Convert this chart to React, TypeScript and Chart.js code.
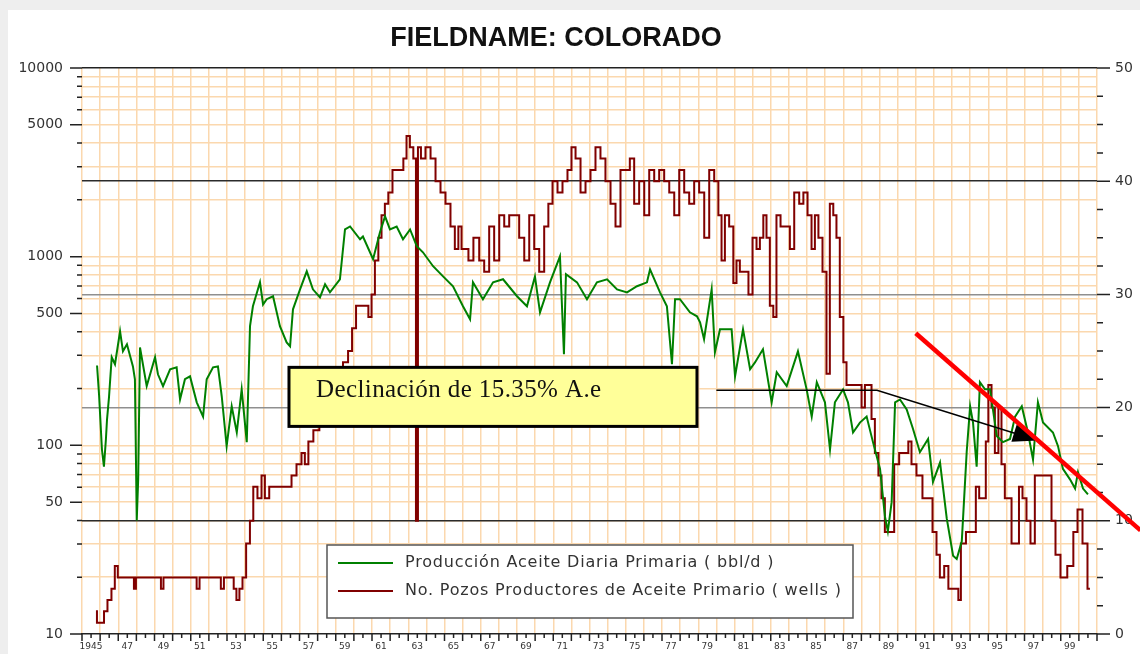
import React, { useEffect, useRef } from 'react';
import { Chart, registerables } from 'chart.js';

Chart.register(...registerables);

// ---------- text ----------
const chartTitle = 'FIELDNAME: COLORADO';
const prodLabel = 'Producción Aceite Diaria Primaria ( bbl/d )';
const wellLabel = 'No. Pozos Productores de Aceite Primario ( wells )';
const noteText = 'Declinación de 15.35% A.e';

// ---------- axis ticks ----------
const xLabelYears = [1945, 1947, 1949, 1951, 1953, 1955, 1957, 1959, 1961, 1963, 1965, 1967, 1969, 1971, 1973, 1975, 1977, 1979, 1981, 1983, 1985, 1987, 1989, 1991, 1993, 1995, 1997, 1999];
const xLabels = ['1945', '47', '49', '51', '53', '55', '57', '59', '61', '63', '65', '67', '69', '71', '73', '75', '77', '79', '81', '83', '85', '87', '89', '91', '93', '95', '97', '99'];
const leftTickValues = [10, 20, 30, 40, 50, 60, 70, 80, 90, 100, 200, 300, 400, 500, 600, 700, 800, 900, 1000, 2000, 3000, 4000, 5000, 6000, 7000, 8000, 9000, 10000];
const leftLabelValues = [10, 50, 100, 500, 1000, 5000, 10000];
const rightLabelValues = [0, 10, 20, 30, 40, 50];

// ---------- series: oil production (bbl/d) ----------
const prodYears = [
  1945.83, 1945.94, 1946.10, 1946.21, 1946.32, 1946.38, 1946.49, 1946.64, 1946.82, 1947.10,
  1947.26, 1947.48, 1947.81, 1947.92, 1948.02, 1948.10, 1948.20, 1948.57, 1949.03, 1949.19,
  1949.47, 1949.86, 1950.22, 1950.41, 1950.68, 1950.96, 1951.33, 1951.68, 1951.88, 1952.23,
  1952.50, 1952.71, 1952.98, 1953.26, 1953.54, 1953.81, 1954.09, 1954.27, 1954.43, 1954.82,
  1954.99, 1955.19, 1955.54, 1955.92, 1956.29, 1956.48, 1956.64, 1957.03, 1957.40, 1957.74,
  1958.13, 1958.41, 1958.68, 1959.23, 1959.51, 1959.79, 1960.34, 1960.50, 1961.06, 1961.44,
  1961.72, 1961.99, 1962.36, 1962.71, 1963.10, 1963.47, 1963.81, 1964.37, 1964.92, 1965.47,
  1966.02, 1966.41, 1966.57, 1967.12, 1967.68, 1968.23, 1969.00, 1969.55, 1969.99, 1970.27,
  1970.82, 1971.37, 1971.59, 1971.70, 1972.31, 1972.86, 1973.41, 1973.97, 1974.52, 1975.07,
  1975.62, 1976.17, 1976.34, 1976.89, 1977.27, 1977.55, 1977.72, 1977.99, 1978.54, 1978.93,
  1979.10, 1979.32, 1979.74, 1979.92, 1980.20, 1980.84, 1981.03, 1981.47, 1981.86, 1982.13,
  1982.57, 1983.05, 1983.33, 1983.88, 1984.50, 1984.98, 1985.26, 1985.54, 1985.99, 1986.27,
  1986.54, 1986.99, 1987.26, 1987.54, 1987.92, 1988.29, 1988.64, 1989.03, 1989.30, 1989.46,
  1989.67, 1989.86, 1990.13, 1990.50, 1990.85, 1991.23, 1991.68, 1991.95, 1992.34, 1992.71,
  1993.06, 1993.26, 1993.54, 1993.81, 1994.00, 1994.16, 1994.36, 1994.54, 1994.82, 1995.10,
  1995.47, 1995.81, 1996.20, 1996.48, 1996.85, 1997.19, 1997.47, 1997.74, 1998.02, 1998.57,
  1998.85, 1999.12, 1999.51, 1999.79, 1999.95, 2000.23, 2000.50,
];
const prodValues = [
  265, 186, 95, 77, 108, 137, 180, 293, 269, 402,
  315, 343, 262, 224, 40, 66, 330, 206, 293, 238,
  206, 253, 259, 175, 224, 232, 169, 142, 224, 259,
  262, 182, 99, 161, 117, 198, 104, 428, 546, 731,
  558, 595, 617, 428, 351, 335, 526, 671, 836, 671,
  609, 714, 647, 759, 1394, 1445, 1236, 1279, 970, 1347,
  1636, 1394, 1445, 1236, 1394, 1137, 1055, 890, 786, 697,
  546, 466, 731, 595, 731, 759, 617, 546, 786, 507,
  731, 1003, 304, 808, 731, 595, 731, 759, 671, 647,
  697, 731, 857, 647, 546, 269, 595, 595, 507, 483,
  449, 365, 671, 311, 412, 412, 232, 412, 253, 275,
  323, 169, 244, 206, 315, 198, 142, 216, 169, 95,
  169, 198, 169, 117, 132, 142, 104, 75, 42, 35,
  50, 169, 175, 155, 122, 92, 108, 64, 81, 41,
  26, 25, 31, 92, 161, 132, 77, 216, 198, 198,
  112, 104, 108, 142, 161, 117, 84, 169, 132, 117,
  99, 75, 66, 59, 72, 59, 55,
];

// ---------- series: producing wells ----------
const wellYears = [
  1945.77, 1945.88, 1946.16, 1946.27, 1946.54, 1946.71, 1946.91, 1947.04, 1947.81, 1947.92,
  1948.03, 1949.30, 1949.41, 1949.58, 1951.25, 1951.40, 1951.57, 1952.60, 1952.72, 1952.94,
  1953.30, 1953.44, 1953.60, 1953.77, 1953.94, 1954.17, 1954.36, 1954.54, 1954.82, 1954.99,
  1955.19, 1955.47, 1956.48, 1956.64, 1957.03, 1957.19, 1957.40, 1957.58, 1957.95, 1958.24,
  1958.57, 1958.90, 1959.23, 1959.57, 1959.79, 1960.01, 1960.23, 1960.43, 1960.71, 1960.89,
  1961.06, 1961.26, 1961.44, 1961.61, 1961.81, 1961.99, 1962.27, 1962.64, 1962.82, 1962.99,
  1963.19, 1963.37, 1963.48, 1963.59, 1963.81, 1964.09, 1964.37, 1964.64, 1964.92, 1965.19,
  1965.47, 1965.67, 1965.86, 1966.02, 1966.23, 1966.41, 1966.78, 1967.05, 1967.33, 1967.60,
  1967.88, 1968.16, 1968.43, 1968.71, 1968.98, 1969.26, 1969.54, 1969.81, 1970.09, 1970.36,
  1970.64, 1970.82, 1971.10, 1971.37, 1971.65, 1971.92, 1972.09, 1972.37, 1972.64, 1972.92,
  1973.19, 1973.47, 1973.74, 1974.02, 1974.30, 1974.57, 1974.85, 1975.12, 1975.33, 1975.60,
  1975.88, 1976.16, 1976.43, 1976.71, 1976.98, 1977.26, 1977.54, 1977.81, 1978.09, 1978.36,
  1978.64, 1978.91, 1979.19, 1979.47, 1979.74, 1980.02, 1980.20, 1980.37, 1980.57, 1980.84,
  1981.03, 1981.19, 1981.40, 1981.68, 1981.86, 1982.13, 1982.30, 1982.50, 1982.68, 1982.85,
  1983.05, 1983.23, 1983.40, 1983.68, 1983.95, 1984.16, 1984.43, 1984.71, 1984.89, 1985.17,
  1985.33, 1985.54, 1985.72, 1985.99, 1986.16, 1986.36, 1986.54, 1986.71, 1986.91, 1987.10,
  1987.26, 1987.92, 1988.10, 1988.29, 1988.48, 1988.64, 1988.85, 1989.03, 1989.19, 1989.40,
  1989.67, 1989.95, 1990.22, 1990.50, 1990.68, 1990.85, 1991.23, 1991.51, 1991.79, 1992.06,
  1992.23, 1992.43, 1992.71, 1992.89, 1993.26, 1993.44, 1993.54, 1994.00, 1994.27, 1994.36,
  1994.64, 1994.82, 1994.91, 1995.10, 1995.26, 1995.47, 1995.65, 1995.81, 1996.02, 1996.20,
  1996.37, 1996.64, 1996.75, 1997.03, 1997.19, 1997.47, 1997.67, 1998.41, 1998.57, 1998.85,
  1999.12, 1999.60, 1999.79, 2000.06, 2000.34, 2000.61,
];
const wellValues = [
  2, 1, 1, 2, 3, 4, 6, 5, 5, 4,
  5, 5, 4, 5, 5, 4, 5, 5, 4, 5,
  5, 4, 3, 4, 5, 8, 10, 13, 12, 14,
  12, 13, 13, 14, 15, 16, 15, 17, 18, 19,
  20, 21, 23, 24, 25, 27, 29, 29, 29, 28,
  30, 33, 35, 37, 38, 39, 41, 41, 42, 44,
  43, 42, 10, 43, 42, 43, 42, 40, 39, 38,
  36, 34, 36, 34, 34, 33, 35, 33, 32, 36,
  33, 37, 36, 37, 37, 35, 33, 37, 34, 32,
  36, 38, 40, 39, 40, 41, 43, 42, 39, 40,
  41, 43, 42, 40, 38, 36, 41, 41, 42, 38,
  40, 37, 41, 40, 41, 40, 39, 37, 41, 39,
  38, 40, 39, 35, 41, 40, 37, 33, 37, 36,
  31, 33, 32, 32, 30, 35, 34, 35, 37, 35,
  29, 28, 37, 36, 36, 34, 39, 38, 39, 37,
  34, 37, 35, 32, 23, 38, 37, 35, 28, 24,
  22, 22, 20, 22, 22, 19, 16, 14, 12, 9,
  9, 15, 16, 16, 17, 15, 14, 12, 12, 9,
  7, 5, 6, 4, 4, 3, 8, 9, 9, 13,
  12, 12, 17, 22, 20, 16, 20, 15, 12, 12,
  8, 8, 13, 12, 10, 8, 14, 14, 10, 7,
  5, 6, 9, 11, 8, 4,
];

// ---------- annotation geometry (data units: year, bbl/d) ----------
const noteBox = { fromYear: 1956.42, toYear: 1978.93, topValue: 259, bottomValue: 126 };
const arrowYears = [1980.0, 1988.86, 1997.74];
const arrowValues = [196, 196, 106];
const trendLine = { fromYear: 1991.0, fromValue: 393, toYear: 2003.4, toValue: 35.4 };

const GREEN = '#008000';
const DARKRED = '#800000';
const ORANGE_GRID = '#fbd8ae';
const AXIS_FONT = 'DejaVu Sans';
const CLEAR = 'rgba(0,0,0,0)';

const decorPlugin = {
  id: 'decor',
  beforeDraw(chart: any) {
    const { ctx, width, height } = chart;
    ctx.save();
    ctx.fillStyle = '#ffffff';
    ctx.fillRect(0, 0, width, height);
    ctx.fillStyle = '#eeeeee';
    ctx.fillRect(0, 0, width, 10);
    ctx.fillRect(0, 0, 8, height);
    ctx.restore();
  },
  afterDraw(chart: any) {
    const { ctx, chartArea: a, scales } = chart;
    const xs = scales.x;
    const ys = scales.y;
    const ys2 = scales.y2;
    ctx.save();

    // title
    ctx.fillStyle = '#111';
    ctx.font = 'bold 27px "Liberation Sans"';
    ctx.textAlign = 'center';
    ctx.textBaseline = 'middle';
    ctx.fillText(chartTitle, 556, 39);

    // tick marks
    ctx.strokeStyle = '#222';
    ctx.lineWidth = 1.5;
    ctx.beginPath();
    for (let i = 0; i <= (2001 - 1945) * 2; i++) {
      const v = 1945 + i / 2;
      const px = xs.getPixelForValue(v);
      const len = i % 2 === 0 ? 7 : 4;
      ctx.moveTo(px, a.bottom);
      ctx.lineTo(px, a.bottom + len);
    }
    for (const v of leftTickValues) {
      const py = ys.getPixelForValue(v);
      const len = leftLabelValues.includes(v) ? 12 : 5;
      ctx.moveTo(a.left - len, py);
      ctx.lineTo(a.left, py);
    }
    for (let i = 0; i <= 20; i++) {
      const v = i * 2.5;
      const py = ys2.getPixelForValue(v);
      const len = i % 4 === 0 ? 13 : 6;
      ctx.moveTo(a.right, py);
      ctx.lineTo(a.right + len, py);
    }
    ctx.stroke();

    // legend box
    const lx = a.left + 245;
    const ly = a.bottom - 89;
    const lw = 526;
    const lh = 73;
    ctx.fillStyle = '#ffffff';
    ctx.fillRect(lx, ly, lw, lh);
    ctx.strokeStyle = '#555';
    ctx.lineWidth = 1.5;
    ctx.strokeRect(lx, ly, lw, lh);
    const entries = [
      { color: GREEN, text: prodLabel, dy: 18 },
      { color: DARKRED, text: wellLabel, dy: 46 },
    ];
    ctx.font = `16px "${AXIS_FONT}"`;
    (ctx as any).letterSpacing = '0.8px';
    ctx.textBaseline = 'middle';
    ctx.textAlign = 'left';
    for (const e of entries) {
      ctx.strokeStyle = e.color;
      ctx.lineWidth = 2;
      ctx.beginPath();
      ctx.moveTo(lx + 11, ly + e.dy);
      ctx.lineTo(lx + 66, ly + e.dy);
      ctx.stroke();
      ctx.fillStyle = '#333';
      ctx.fillText(e.text, lx + 78, ly + e.dy);
    }

    // annotation box
    const bx0 = xs.getPixelForValue(noteBox.fromYear);
    const bx1 = xs.getPixelForValue(noteBox.toYear);
    const by0 = ys.getPixelForValue(noteBox.topValue);
    const by1 = ys.getPixelForValue(noteBox.bottomValue);
    ctx.fillStyle = '#ffff99';
    ctx.fillRect(bx0, by0, bx1 - bx0, by1 - by0);
    ctx.strokeStyle = '#000';
    ctx.lineWidth = 3;
    ctx.strokeRect(bx0, by0, bx1 - bx0, by1 - by0);
    ctx.fillStyle = '#111';
    ctx.font = '25px "Liberation Serif"';
    (ctx as any).letterSpacing = '0.4px';
    ctx.textBaseline = 'middle';
    ctx.fillText(noteText, bx0 + 27, by0 + 23);
    (ctx as any).letterSpacing = '0px';

    // decline arrow
    const pts = arrowYears.map((yr, i) => [xs.getPixelForValue(yr), ys.getPixelForValue(arrowValues[i])]);
    ctx.strokeStyle = '#000';
    ctx.lineWidth = 1.5;
    ctx.beginPath();
    ctx.moveTo(pts[0][0], pts[0][1]);
    for (let i = 1; i < pts.length; i++) ctx.lineTo(pts[i][0], pts[i][1]);
    ctx.stroke();
    const tip = pts[pts.length - 1];
    const prev = pts[pts.length - 2];
    const dx = tip[0] - prev[0];
    const dyy = tip[1] - prev[1];
    const L = Math.hypot(dx, dyy);
    const ux = dx / L;
    const uy = dyy / L;
    const bcx = tip[0] - 25 * ux;
    const bcy = tip[1] - 25 * uy;
    ctx.fillStyle = '#000';
    ctx.beginPath();
    ctx.moveTo(tip[0], tip[1]);
    ctx.lineTo(bcx - 9 * uy, bcy + 9 * ux);
    ctx.lineTo(bcx + 9 * uy, bcy - 9 * ux);
    ctx.closePath();
    ctx.fill();

    // red trend line
    ctx.strokeStyle = '#ff0000';
    ctx.lineWidth = 4.5;
    ctx.beginPath();
    ctx.moveTo(xs.getPixelForValue(trendLine.fromYear), ys.getPixelForValue(trendLine.fromValue));
    ctx.lineTo(xs.getPixelForValue(trendLine.toYear), ys.getPixelForValue(trendLine.toValue));
    ctx.stroke();

    ctx.restore();
  },
};

export default function App() {
  const canvasRef = useRef<HTMLCanvasElement | null>(null);

  useEffect(() => {
    const canvas = canvasRef.current;
    if (!canvas) return;
    const prodData = prodYears.map((x, i) => ({ x, y: prodValues[i] }));
    const wellData = wellYears.map((x, i) => ({ x, y: wellValues[i] }));

    const chart = new Chart(canvas, {
      type: 'line',
      data: {
        datasets: [
          {
            label: prodLabel,
            data: prodData,
            borderColor: GREEN,
            backgroundColor: GREEN,
            borderWidth: 2,
            pointRadius: 0,
            tension: 0,
            yAxisID: 'y',
            xAxisID: 'x',
          },
          {
            label: wellLabel,
            data: wellData,
            borderColor: DARKRED,
            backgroundColor: DARKRED,
            borderWidth: 2,
            pointRadius: 0,
            stepped: 'middle',
            yAxisID: 'y2',
            xAxisID: 'x',
          },
        ],
      },
      options: {
        animation: false,
        responsive: true,
        maintainAspectRatio: false,
        devicePixelRatio: 1,
        events: [],
        layout: { padding: { left: 0, right: 0, top: 68, bottom: 0 } },
        plugins: {
          legend: { display: false },
          tooltip: { enabled: false },
          title: { display: false },
        },
        scales: {
          x: {
            type: 'linear',
            position: 'bottom',
            min: 1945,
            max: 2001,
            afterFit: (scale: any) => { scale.height = 20; },
            afterBuildTicks: (scale: any) => {
              const t = [];
              for (let i = 0; i <= (2001 - 1945) * 2; i++) t.push({ value: 1945 + i / 2 });
              scale.ticks = t;
            },
            border: { display: true, color: '#222', width: 1.5 },
            grid: {
              drawTicks: false,
              lineWidth: 1.5,
              color: (c: any) => (c.tick && Number.isInteger(c.tick.value) ? ORANGE_GRID : CLEAR),
            },
            ticks: {
              autoSkip: false,
              maxRotation: 0,
              minRotation: 0,
              padding: 7,
              color: '#333',
              font: { family: AXIS_FONT, size: 9 },
              callback: (value: any) => {
                const v = Number(value);
                const idx = xLabelYears.indexOf(v - 0.5);
                return idx >= 0 ? xLabels[idx] : '';
              },
            },
          },
          y: {
            type: 'logarithmic',
            position: 'left',
            min: 10,
            max: 10000,
            afterFit: (scale: any) => { scale.width = 82; },
            afterBuildTicks: (scale: any) => {
              scale.ticks = leftTickValues.map((v) => ({ value: v }));
            },
            border: { display: false },
            grid: {
              drawTicks: true,
              tickLength: 12,
              tickColor: CLEAR,
              lineWidth: 1.5,
              color: (c: any) => {
                const v = c.tick ? c.tick.value : 0;
                if (v === 10000) return '#222';
                if (v === 10) return CLEAR;
                return ORANGE_GRID;
              },
            },
            ticks: {
              autoSkip: false,
              padding: 7,
              color: '#333',
              font: { family: AXIS_FONT, size: 14 },
              callback: (value: any) => (leftLabelValues.includes(Number(value)) ? String(value) : ''),
            },
          },
          y2: {
            type: 'linear',
            position: 'right',
            min: 0,
            max: 50,
            afterFit: (scale: any) => { scale.width = 43; },
            border: { display: false },
            grid: {
              drawTicks: true,
              tickLength: 13,
              tickColor: CLEAR,
              drawOnChartArea: true,
              lineWidth: 1.5,
              color: (c: any) => {
                const v = c.tick ? c.tick.value : -1;
                if (v === 10 || v === 40) return '#2b2b2b';
                if (v === 20 || v === 30) return '#8f8f8f';
                return CLEAR;
              },
            },
            ticks: {
              stepSize: 2.5,
              autoSkip: false,
              padding: 5,
              color: '#333',
              font: { family: AXIS_FONT, size: 14 },
              callback: (value: any) => (rightLabelValues.includes(Number(value)) ? String(value) : ''),
            },
          },
        },
      },
      plugins: [decorPlugin],
    } as any);

    return () => chart.destroy();
  }, []);

  return (
    <div style={{ position: 'fixed', left: 0, top: 0, width: 1140, height: 654 }}>
      <canvas ref={canvasRef} />
    </div>
  );
}
